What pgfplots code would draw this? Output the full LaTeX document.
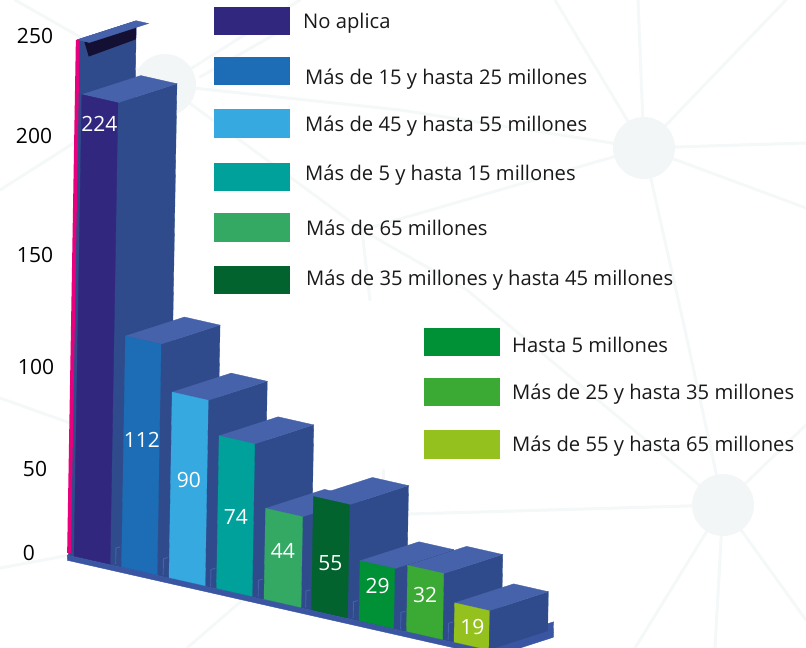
\documentclass[border=0pt]{standalone}
\usepackage{pgfplots}
\pgfplotsset{compat=1.18}
\usepackage{fontspec}
\setmainfont{Open Sans}
\definecolor{cA}{HTML}{32277F}
\definecolor{cB}{HTML}{1C6DB5}
\definecolor{cC}{HTML}{36A9E1}
\definecolor{cD}{HTML}{00A19A}
\definecolor{cE}{HTML}{33A964}
\definecolor{cF}{HTML}{03632E}
\definecolor{cG}{HTML}{009036}
\definecolor{cH}{HTML}{3AAA35}
\definecolor{cI}{HTML}{95C11F}
\definecolor{side}{HTML}{2F4B8B}
\definecolor{topf}{HTML}{4662AA}
\definecolor{base}{HTML}{3A56A2}
\definecolor{pinkl}{HTML}{E6007E}
\definecolor{net}{HTML}{F5F8F8}
\definecolor{netc}{HTML}{F3F6F7}
\newcommand{\threedbar}[4]{%
  \addplot3[fill=side,draw=side,line width=0.3pt,forget plot] coordinates {(#2,0,0)(#2,1,0)(#2,1,#3)(#2,0,#3)(#2,0,0)};
  \addplot3[fill=topf,draw=topf,line width=0.3pt,forget plot] coordinates {(#1,0,#3)(#2,0,#3)(#2,1,#3)(#1,1,#3)(#1,0,#3)};
  \addplot3[fill=#4,draw=#4,line width=0.3pt,forget plot] coordinates {(#1,0,0)(#2,0,0)(#2,0,#3)(#1,0,#3)(#1,0,0)};
}
\newcommand{\gapmark}[2]{%
  \addplot3[draw=topf,line width=0.9pt,forget plot] coordinates {(#1,0.03,0)(#1,0.03,8)(#2,0.03,9)};
}
\newcommand{\swatch}[4]{\fill[#4] (#1pt,648pt-#2pt) rectangle (#1pt+76pt,648pt-#3pt);}
\newcommand{\legtext}[3]{\node[anchor=west,inner sep=0pt,font=\fontsize{20.2}{24}\selectfont,text=black!90] at (#1pt,646.5pt-#2pt) {#3};}
\newcommand{\ticktext}[3]{\node[inner sep=0pt,font=\fontsize{21}{25}\selectfont,text=black] at (#1pt,648pt-#2pt) {#3};}
\newcommand{\vallab}[4]{\node[text=white,inner sep=0,font=\fontsize{21}{25}\selectfont] at (axis cs:#1,#2,#3) {#4};}
\begin{document}
\begin{tikzpicture}[x=1pt,y=1pt]
\path[use as bounding box] (0,0) rectangle (806pt,648pt);
\clip (0,0) rectangle (806pt,648pt);
% faint network in the background
\begin{scope}[net,line width=3pt,line cap=round]
\foreach \a/\b/\c/\d in {644/148/555/0, 644/148/638/0, 644/148/786/0, 644/148/806/143, 644/148/806/208,
  644/148/685/330, 685/330/723/505, 644/148/362/230, 644/148/400/110, 400/110/165/85, 362/230/370/300,
  362/230/467/290, 467/290/723/505, 165/85/300/0, 165/85/362/230, 165/85/0/190, 165/85/15/0,
  165/85/70/423, 0/398/70/423, 723/505/340/516, 723/505/806/425, 723/505/635/648, 723/505/715/648,
  723/505/806/620, 340/516/187/648, 383/470/383/516, 0/568/70/555, 200/77/277/33}
  {\draw (\a pt,648pt-\b pt) -- (\c pt,648pt-\d pt);}
\end{scope}
\fill[netc] (644pt,648pt-148pt) circle (31pt);
\fill[netc] (723pt,648pt-505pt) circle (31pt);
\fill[netc] (165pt,648pt-85pt) circle (31pt);
% legend
\swatch{214}{7}{35}{cA}   \legtext{303}{22}{No aplica}
\swatch{214}{57}{85}{cB}  \legtext{305}{78}{Más de 15 y hasta 25 millones}
\swatch{214}{109}{138}{cC}\legtext{305}{125}{Más de 45 y hasta 55 millones}
\swatch{214}{163}{191}{cD}\legtext{305}{174}{Más de 5 y hasta 15 millones}
\swatch{214}{213}{242}{cE}\legtext{306}{226}{Más de 65 millones}
\swatch{214}{266}{294}{cF}\legtext{306}{279}{Más de 35 millones y hasta 45 millones}
\swatch{424}{328}{356}{cG}\legtext{512}{343}{Hasta 5 millones}
\swatch{424}{378}{406}{cH}\legtext{512}{393}{Más de 25 y hasta 35 millones}
\swatch{424}{430}{459}{cI}\legtext{512}{445}{Más de 55 y hasta 65 millones}
% value-axis numbers
\ticktext{35}{36}{250}
\ticktext{34}{136}{200}
\ticktext{35}{255}{150}
\ticktext{36}{367}{100}
\ticktext{35}{469}{50}
\ticktext{29}{553}{0}
\begin{axis}[
  disabledatascaling,
  x={(47.5pt,-10.75pt)},y={(59pt,19pt)},z={(0.035pt,2.06pt)},
  xmin=-0.2,xmax=9,ymin=-0.1,ymax=1.1,zmin=-3,zmax=255,
  hide axis,clip=false,anchor=origin,at={(74pt,92pt)}]
% floor and its front lip
\addplot3[fill=side,draw=side,forget plot] coordinates {(-0.115,-0.02,0)(8.85,-0.02,0)(8.85,1,0)(-0.115,1,0)(-0.115,-0.02,0)};
\addplot3[fill=base,draw=base,forget plot] coordinates {(-0.115,-0.02,-2.5)(8.85,-0.02,-2.5)(8.85,-0.02,0)(-0.115,-0.02,0)(-0.115,-0.02,-2.5)};
\addplot3[fill=base,draw=base,forget plot] coordinates {(8.85,-0.02,-2.5)(8.85,1,-2.5)(8.85,1,5)(8.85,-0.02,5)(8.85,-0.02,-2.5)};
% left wall of the plot, with its cap and shadow
\addplot3[fill=side,draw=side,forget plot] coordinates {(-0.115,0,0)(-0.115,1,0)(-0.115,1,250)(-0.115,0,250)(-0.115,0,0)};
\addplot3[fill=black!60!cA,draw=none,forget plot] coordinates {(-0.115,0.12,248)(-0.115,1,248)(-0.115,1,241)(-0.115,0.2,240)(-0.115,0.12,248)};
\addplot3[fill=topf,draw=topf,forget plot] coordinates {(-0.115,0,250)(0.14,0,250)(0.14,1,250)(-0.115,1,250)(-0.115,0,250)};
\addplot3[draw=pinkl,line width=3.8pt,forget plot] coordinates {(-0.105,0,1)(-0.105,0,250)};
% the bars: x from, x to, value
\threedbar{0}{0.76}{224}{cA}
\threedbar{1}{1.75}{112}{cB}
\threedbar{2}{2.76}{90}{cC}
\threedbar{3}{3.75}{74}{cD}
\threedbar{4}{4.78}{44}{cE}
\threedbar{5}{5.76}{55}{cF}
\threedbar{6}{6.73}{29}{cG}
\threedbar{7}{7.76}{32}{cH}
\threedbar{8}{8.73}{19}{cI}
\gapmark{0.84}{0.93}\gapmark{1.84}{1.93}\gapmark{2.84}{2.93}\gapmark{3.84}{3.93}
\gapmark{4.84}{4.93}\gapmark{5.84}{5.93}\gapmark{6.84}{6.93}\gapmark{7.84}{7.93}
% value labels
\vallab{0.38}{0}{211.5}{224}
\vallab{1.38}{0}{63.5}{112}
\vallab{2.38}{0}{49.5}{90}
\vallab{3.38}{0}{36.5}{74}
\vallab{4.38}{0}{25.5}{44}
\vallab{5.38}{0}{24.5}{55}
\vallab{6.38}{0}{18.5}{29}
\vallab{7.38}{0}{19.5}{32}
\vallab{8.38}{0}{9.5}{19}
\end{axis}
\end{tikzpicture}
\end{document}
